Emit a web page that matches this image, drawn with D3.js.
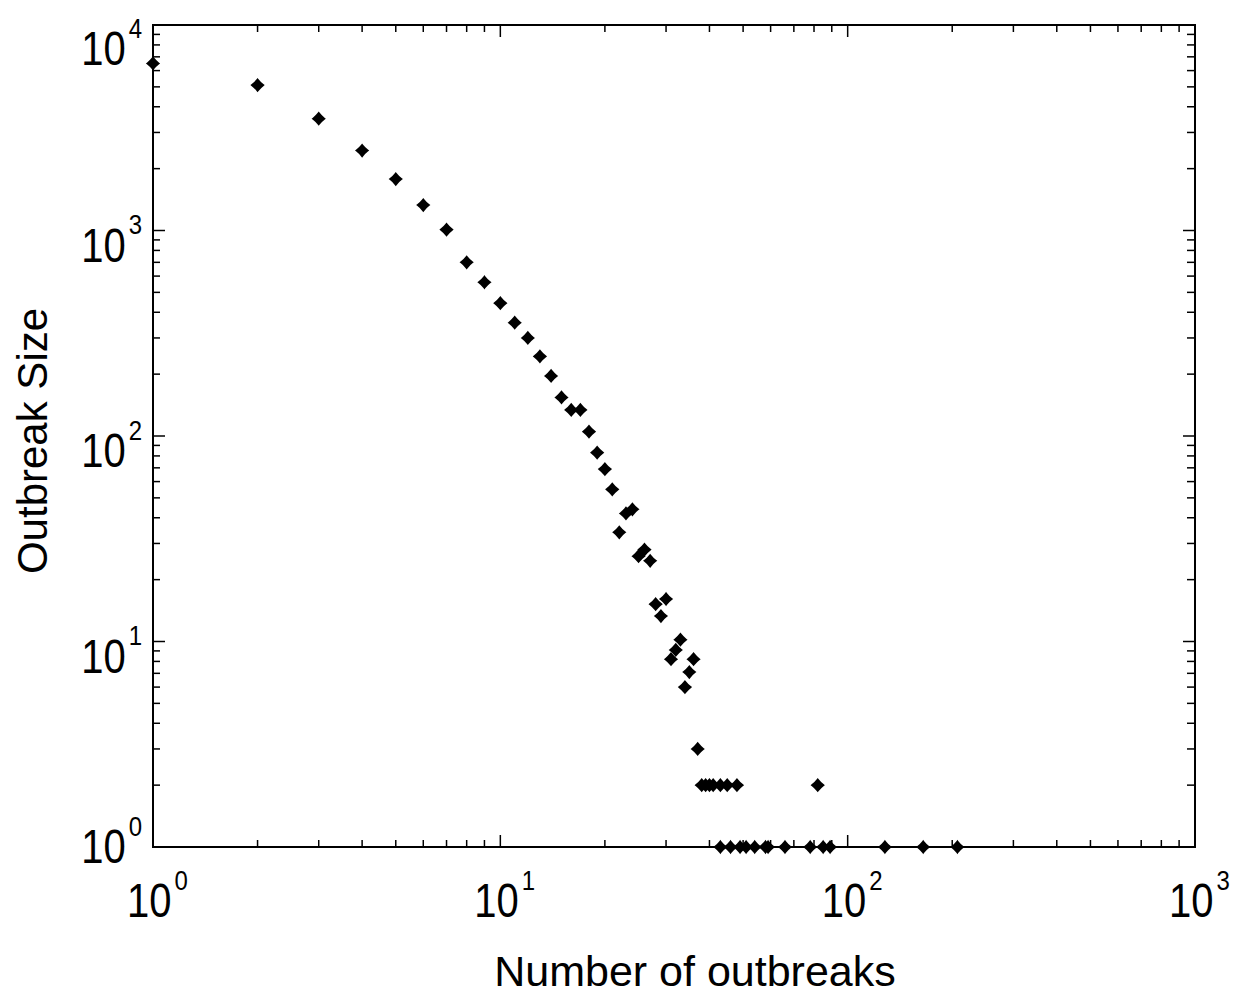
<!DOCTYPE html>
<html>
<head>
<meta charset="utf-8">
<script src="https://cdn.jsdelivr.net/npm/d3@7"></script>
<style>
  html, body { margin: 0; padding: 0; background: #fff; }
  svg { display: block; }
  text { font-family: "Liberation Sans", Arial, sans-serif; fill: #000; }
</style>
</head>
<body>
<svg id="chart" width="1238" height="995"></svg>
<script>
// ---- data ----
const outbreaks = [1, 2, 3, 4, 5, 6, 7, 8, 9, 10, 11, 12, 13, 14, 15, 16, 17, 18, 19, 20,
  21, 22, 23, 24, 25, 26, 27, 28, 29, 30, 31, 32, 33, 34, 35, 36, 37,
  38, 39, 40, 41, 43, 45, 48, 82,
  43, 46, 49, 51, 54, 58, 59, 66, 78, 85, 89, 128, 165, 207];
const sizes = [6500, 5100, 3500, 2450, 1780, 1330, 1010, 700, 560, 443, 356, 300, 244, 196, 154, 134, 134, 105, 83, 69,
  55, 34, 42, 44, 26, 28, 24.7, 15.2, 13.3, 16.1, 8.2, 9.1, 10.2, 6, 7.1, 8.2, 3,
  2, 2, 2, 2, 2, 2, 2, 2,
  1, 1, 1, 1, 1, 1, 1, 1, 1, 1, 1, 1, 1, 1];
const xDomain = [1, 1000];
const yDomain = [1, 10000];
const xMajor = [1, 10, 100, 1000];
const yMajor = [1, 10, 100, 1000, 10000];
const xTitle = "Number of outbreaks";
const yTitle = "Outbreak Size";

const svg = d3.select("#chart");
const L = 153, R = 1195, T = 25, B = 847;
const x = d3.scaleLog().domain(xDomain).range([L, R]);
const y = d3.scaleLog().domain(yDomain).range([B, T]);

// minor ticks
function minors(dom) {
  const out = [];
  for (let p = dom[0]; p < dom[1]; p *= 10)
    for (let k = 2; k <= 9; k++) out.push(p * k);
  return out;
}
const g = svg.append("g");
const tickStyle = s => s.attr("stroke", "#000").attr("stroke-width", 1.5);

// x ticks bottom/top
minors(xDomain).forEach(v => {
  tickStyle(g.append("line").attr("x1", x(v)).attr("x2", x(v)).attr("y1", B).attr("y2", B - 7));
  tickStyle(g.append("line").attr("x1", x(v)).attr("x2", x(v)).attr("y1", T).attr("y2", T + 7));
});
xMajor.forEach(v => {
  tickStyle(g.append("line").attr("x1", x(v)).attr("x2", x(v)).attr("y1", B).attr("y2", B - 12));
  tickStyle(g.append("line").attr("x1", x(v)).attr("x2", x(v)).attr("y1", T).attr("y2", T + 12));
});
// y ticks left/right
minors(yDomain).forEach(v => {
  tickStyle(g.append("line").attr("y1", y(v)).attr("y2", y(v)).attr("x1", L).attr("x2", L + 7));
  tickStyle(g.append("line").attr("y1", y(v)).attr("y2", y(v)).attr("x1", R).attr("x2", R - 8));
});
yMajor.forEach(v => {
  tickStyle(g.append("line").attr("y1", y(v)).attr("y2", y(v)).attr("x1", L).attr("x2", L + 12));
  tickStyle(g.append("line").attr("y1", y(v)).attr("y2", y(v)).attr("x1", R).attr("x2", R - 12));
});

// frame
g.append("rect").attr("x", L).attr("y", T).attr("width", R - L).attr("height", B - T)
  .attr("fill", "none").attr("stroke", "#000").attr("stroke-width", 2);

// tick labels (10 with superscript exponent)
const SY = 1.18;
function powLabel(px, baseline, exp, anchor) {
  const lg = svg.append("g").attr("transform", `translate(${px},${baseline}) scale(1,${SY})`);
  const t = lg.append("text").attr("font-size", 40).attr("text-anchor", anchor);
  t.append("tspan").text("10");
  t.append("tspan").attr("font-size", 24).attr("dy", -23).attr("dx", 3).text(exp);
}
xMajor.forEach(v => {
  const e = Math.round(Math.log10(v));
  powLabel(x(v) - 26, 917, e, "start");
});
yMajor.forEach(v => {
  const e = Math.round(Math.log10(v));
  const base = Math.min(863, Math.max(65, y(v) + 31));
  powLabel(142, base, e, "end");
});

// axis titles
svg.append("text").attr("x", 695).attr("y", 986).attr("text-anchor", "middle")
  .attr("font-size", 43).text(xTitle);
svg.append("text").attr("transform", `translate(47,${(T + B) / 2 + 5}) rotate(-90)`)
  .attr("text-anchor", "middle").attr("font-size", 42).text(yTitle);

// points
const pts = outbreaks.map((o, i) => ({ o, s: sizes[i] }));
svg.append("g").selectAll("path").data(pts).join("path")
  .attr("transform", d => `translate(${x(d.o)},${y(d.s)})`)
  .attr("d", "M0,-5.5 Q2.4,-2.4 5.5,0 Q2.4,2.4 0,5.5 Q-2.4,2.4 -5.5,0 Q-2.4,-2.4 0,-5.5 Z")
  .attr("fill", "#000").attr("stroke", "#000").attr("stroke-width", 2);
</script>
</body>
</html>
